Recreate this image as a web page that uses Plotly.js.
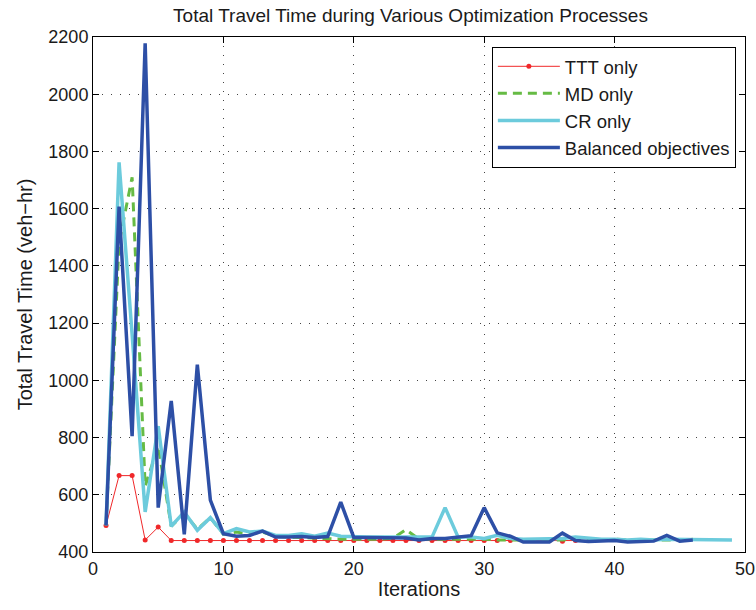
<!DOCTYPE html>
<html>
<head>
<meta charset="utf-8">
<script src="https://cdn.plot.ly/plotly-3.0.1.min.js"></script>
<style>
  html, body { margin: 0; padding: 0; background: #ffffff; }
  #chart { width: 756px; height: 610px; }
</style>
</head>
<body>
<div id="chart"></div>
<script>
// Total travel time (veh-hr) per iteration for each optimization objective
const tttOnly = [493, 667, 667, 442, 487, 440, 440, 440, 440, 440,
                 440, 440, 440, 440, 440, 440, 440, 440, 440, 440,
                 440, 440, 440, 440, 440, 440, 440, 440, 440, 440,
                 440, 440, 440, 440, 440, 438, 440];

const mdOnly = [493, 1480, 1710, 630, 770, 490, 535, 480, 520, 462,
                470, 462, 470, 455, 452, 450, 447, 447, 445, 445,
                445, 445, 448, 478, 445, 445, 445, 445, 445, 445,
                442, 442, 442, 442, 442, 442, 445, 442, 442, 445,
                442, 442, 442, 442, 442, 445];

const crOnly = [493, 1762, 1160, 540, 840, 490, 540, 476, 520, 464,
                482, 470, 473, 458, 458, 464, 455, 466, 455, 452,
                452, 452, 452, 452, 452, 452, 555, 452, 452, 447,
                458, 447, 445, 445, 445, 447, 452, 447, 445, 445,
                442, 445, 442, 445, 445, 442, 442, 445, 442];

const balanced = [493, 1607, 805, 2178, 555, 928, 462, 1055, 581, 464,
                  455, 458, 473, 452, 452, 454, 451, 454, 574, 451,
                  451, 451, 451, 449, 442, 447, 447, 451, 457, 555,
                  467, 455, 435, 435, 435, 466, 440, 437, 438, 440,
                  435, 435, 438, 458, 438, 442];

const seriesNames = ['TTT only', 'MD only', 'CR only', 'Balanced objectives'];

// iteration numbers start at 1
const iters = arr => arr.map((_, i) => i + 1);

const font = 'Liberation Sans, Arial, Helvetica, sans-serif';

const traces = [
  {
    x: iters(tttOnly), y: tttOnly, name: seriesNames[0],
    type: 'scatter', mode: 'lines+markers',
    line: { color: '#f0282a', width: 1 },
    marker: { color: '#f0282a', size: 5 }
  },
  {
    x: iters(mdOnly), y: mdOnly, name: seriesNames[1],
    type: 'scatter', mode: 'lines',
    line: { color: '#66bb44', width: 3, dash: '9px,6px' }
  },
  {
    x: iters(crOnly), y: crOnly, name: seriesNames[2],
    type: 'scatter', mode: 'lines',
    line: { color: '#6ccbdc', width: 3.5 }
  },
  {
    x: iters(balanced), y: balanced, name: seriesNames[3],
    type: 'scatter', mode: 'lines',
    line: { color: '#2d4fa6', width: 3.5 }
  }
];

const axisCommon = {
  showline: true, linecolor: '#000000', linewidth: 1, mirror: 'ticks',
  ticks: 'inside', ticklen: 6, tickcolor: '#000000', tickwidth: 1,
  showgrid: true, gridcolor: '#444444', gridwidth: 1, griddash: '1px,8px',
  zeroline: false,
  tickfont: { family: font, size: 18, color: '#1a1a1a' }
};

const layout = {
  width: 756, height: 610,
  paper_bgcolor: '#ffffff', plot_bgcolor: '#ffffff',
  margin: { l: 93, r: 11, t: 37, b: 58 },
  title: {
    text: 'Total Travel Time during Various Optimization Processes',
    font: { family: font, size: 19, color: '#1a1a1a' },
    x: 0.543, xanchor: 'center', y: 0.975, yanchor: 'middle'
  },
  xaxis: Object.assign({}, axisCommon, {
    range: [0, 50], dtick: 10, tick0: 0,
    title: { text: 'Iterations', font: { family: font, size: 20, color: '#1a1a1a' }, standoff: 4 }
  }),
  yaxis: Object.assign({}, axisCommon, {
    range: [400, 2200], dtick: 200, tick0: 400,
    title: { text: 'Total Travel Time (veh\u2212hr)', font: { family: font, size: 20, color: '#1a1a1a' }, standoff: 10 }
  }),
  showlegend: true,
  legend: {
    x: 0.986, xanchor: 'right', y: 0.981, yanchor: 'top',
    bgcolor: '#ffffff', bordercolor: '#000000', borderwidth: 1,
    font: { family: font, size: 18.5, color: '#1a1a1a' },
    itemwidth: 62, tracegroupgap: 0
  }
};

Plotly.newPlot('chart', traces, layout, { displayModeBar: false, staticPlot: true });
</script>
</body>
</html>
